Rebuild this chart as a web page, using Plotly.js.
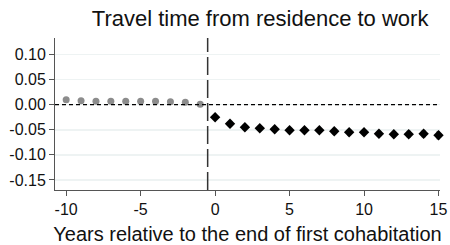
<!DOCTYPE html>
<html>
<head>
<meta charset="utf-8">
<script src="https://cdn.plot.ly/plotly-3.0.1.min.js"></script>
<style>html,body{margin:0;padding:0;background:#fff;}#chart{width:450px;height:245px;}</style>
</head>
<body>
<div id="chart"></div>
<script>
var preYears = [-10, -9, -8, -7, -6, -5, -4, -3, -2, -1];
var preValues = [0.010, 0.008, 0.007, 0.007, 0.007, 0.007, 0.007, 0.006, 0.005, 0.001];
var preErrors = [0.003, 0.003, 0.003, 0.003, 0.003, 0.003, 0.003, 0.003, 0.003, 0.002];
var postYears = [0, 1, 2, 3, 4, 5, 6, 7, 8, 9, 10, 11, 12, 13, 14, 15];
var postValues = [-0.025, -0.038, -0.045, -0.047, -0.049, -0.051, -0.051, -0.051, -0.053, -0.055, -0.055, -0.058, -0.059, -0.059, -0.058, -0.061];
var postErrors = [0.003, 0.003, 0.004, 0.004, 0.004, 0.004, 0.004, 0.004, 0.005, 0.005, 0.005, 0.005, 0.005, 0.006, 0.006, 0.007];
var xTicks = [-10, -5, 0, 5, 10, 15];
var yTicks = [-0.15, -0.10, -0.05, 0.00, 0.05, 0.10];
var eventLine = -0.5;

var traces = [
  {x: preYears, y: preValues, type: 'scatter', mode: 'markers',
   marker: {symbol: 'circle', size: 7, color: '#8c8c8c'},
   error_y: {type: 'data', array: preErrors, visible: true, color: '#b0b0b0', thickness: 1.5, width: 2},
   hoverinfo: 'skip', cliponaxis: false},
  {x: postYears, y: postValues, type: 'scatter', mode: 'markers',
   marker: {symbol: 'diamond', size: 8, color: '#000000'},
   error_y: {type: 'data', array: postErrors, visible: true, color: '#a0a0a0', thickness: 1.5, width: 2},
   hoverinfo: 'skip', cliponaxis: false}
];

var layout = {
  width: 450, height: 245,
  margin: {l: 55, r: 10, t: 38, b: 55},
  paper_bgcolor: '#ffffff', plot_bgcolor: '#ffffff',
  showlegend: false,
  font: {family: 'Liberation Sans, Arial, sans-serif', color: '#000'},
  title: {text: 'Travel time from residence to work', x: 0.578, xanchor: 'center', y: 0.925, yref: 'container', yanchor: 'middle',
          font: {size: 22, color: '#111'}},
  xaxis: {range: [-10.75, 15.1], tickvals: xTicks, ticktext: xTicks.map(String),
          showgrid: false, zeroline: false, showline: true, linecolor: '#555', linewidth: 1,
          ticks: 'outside', ticklen: 5, tickcolor: '#555', tickfont: {size: 16, color: '#111'},
          title: {text: 'Years relative to the end of first cohabitation', font: {size: 20, color: '#111'}, standoff: 10}},
  yaxis: {range: [-0.17, 0.133], tickvals: yTicks, ticktext: yTicks.map(function(v){return v.toFixed(2);}),
          showgrid: true, gridcolor: '#eef3f3', gridwidth: 1.5, zeroline: false,
          showline: true, linecolor: '#555', linewidth: 1,
          ticks: 'outside', ticklen: 5, tickcolor: '#555', tickfont: {size: 16, color: '#111'}},
  shapes: [
    {type: 'line', xref: 'paper', x0: 0, x1: 1, yref: 'y', y0: 0, y1: 0,
     line: {color: '#000', width: 1.2, dash: '4px,3px'}},
    {type: 'line', xref: 'x', x0: eventLine, x1: eventLine, yref: 'paper', y0: 0, y1: 1,
     line: {color: '#333', width: 1.5, dash: '18px,5px'}}
  ]
};

Plotly.newPlot('chart', traces, layout, {staticPlot: true, displayModeBar: false});
</script>
</body>
</html>
